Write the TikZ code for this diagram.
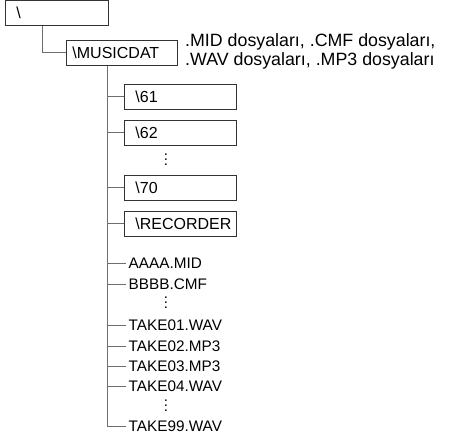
\documentclass[tikz,border=0pt]{standalone}
\usepackage{fontspec}
\setmainfont{Liberation Sans}
\usepackage{xcolor}
\definecolor{linegray}{HTML}{6E6E6E}
\definecolor{boxline}{HTML}{333333}
\usetikzlibrary{positioning}
\newcommand\moredots{\vbox{\baselineskip=5pt\lineskiplimit=0pt\hbox{.}\hbox{.}\hbox{.}}}

\begin{document}
\begin{tikzpicture}[x=1pt, y=-1pt,
    dirbox/.style={draw=boxline, line width=0.9pt, minimum height=25pt, text width=#1,
      align=left, inner xsep=11pt, inner ysep=0pt, anchor=north west,
      font=\fontsize{16}{18}\selectfont},
    file/.style={inner xsep=2.5pt, inner ysep=0pt, text height=11pt, text depth=0pt,
      anchor=west, font=\fontsize{15.3}{17}\selectfont},
    gap/.style={inner sep=0pt, font=\fontsize{15}{17}\selectfont},
    link/.style={draw=linegray, line width=1pt}]
  \useasboundingbox (0,0) rectangle (449,437);
  % directories
  \node[dirbox=81pt] (root) at (5,0) {\textbackslash};
  \node[dirbox=99pt, inner xsep=6pt] (musicdat) at (66,40) {\textbackslash MUSICDAT};
  \node[anchor=north west, inner sep=0pt, align=left, font=\fontsize{17.8}{19}\selectfont]
    (note) at (185,33) {.MID dosyaları, .CMF dosyaları,\\.WAV dosyaları, .MP3 dosyaları};
  \node[dirbox=90pt] (d61) at (124,84) {\textbackslash 61};
  \node[dirbox=90pt, below=10pt of d61] (d62) {\textbackslash 62};
  \node[gap] (gap1) at (166,160) {\moredots};
  \node[dirbox=90pt] (d70) at (124,175) {\textbackslash 70};
  \node[dirbox=90pt, below=10pt of d70] (recorder) {\textbackslash RECORDER};
  % files
  \node[file] (aaaa) at (126,263) {AAAA.MID};
  \node[file] (bbbb) at (126,284) {BBBB.CMF};
  \node[gap] (gap2) at (166,303) {\moredots};
  \node[file] (take01) at (126,325) {TAKE01.WAV};
  \node[file] (take02) at (126,346) {TAKE02.MP3};
  \node[file] (take03) at (126,366) {TAKE03.MP3};
  \node[file] (take04) at (126,386) {TAKE04.WAV};
  \node[gap] (gap3) at (166,406) {\moredots};
  \node[file] (take99) at (126,426) {TAKE99.WAV};
  % tree lines
  \coordinate (trunk) at (107.5,66);
  \draw[link] ([xshift=37pt]root.south west) |- (musicdat.west);
  \draw[link] (trunk) |- (take99.west);
  \foreach \n in {d61,d62,d70,recorder,aaaa,bbbb,take01,take02,take03,take04}
    \draw[link] (trunk |- \n.west) -- (\n.west);
\end{tikzpicture}
\end{document}
